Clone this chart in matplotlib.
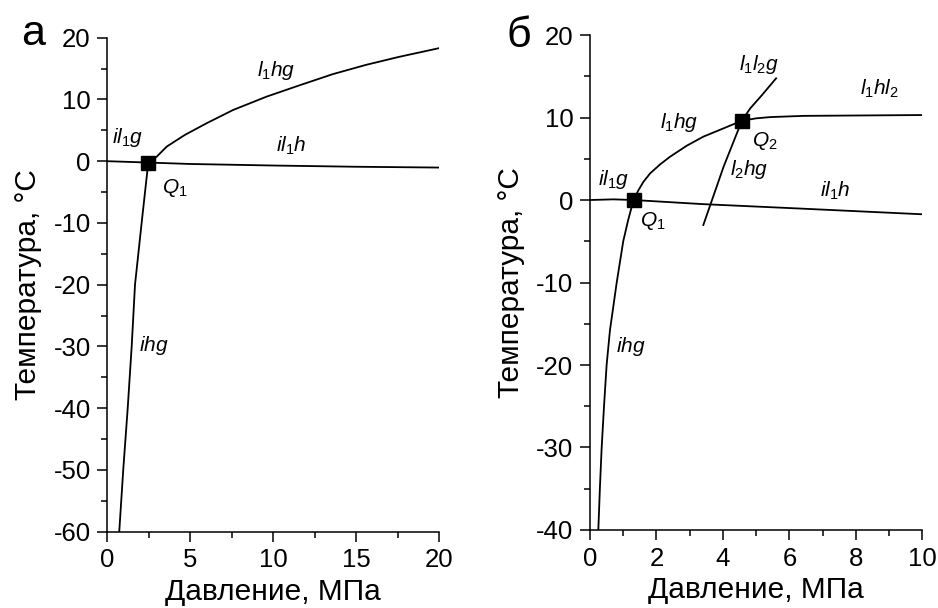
import matplotlib
matplotlib.use("Agg")
import matplotlib.pyplot as plt
from matplotlib.ticker import MultipleLocator

plt.rcParams["font.family"] = ["Liberation Sans", "DejaVu Sans"]
plt.rcParams["mathtext.fontset"] = "custom"
plt.rcParams["mathtext.rm"] = "Liberation Sans"
plt.rcParams["mathtext.it"] = "Liberation Sans:italic"
plt.rcParams["axes.unicode_minus"] = False

# --- панель а: давление, МПа / температура, °C ---
a_il1_P = [0.0, 2.47, 5.0, 10.0, 15.0, 20.0]
a_il1_T = [0.0, -0.22, -0.45, -0.7, -0.9, -1.03]
a_l1hg_P = [2.47, 2.98, 3.58, 4.68, 5.99, 7.59, 9.6, 11.6, 13.6, 15.6, 17.6, 20.0]
a_l1hg_T = [-0.22, 0.74, 2.36, 4.26, 6.15, 8.3, 10.45, 12.3, 14.1, 15.6, 16.9, 18.3]
a_ihg_P = [0.72, 0.96, 1.23, 1.47, 1.67, 2.07, 2.47]
a_ihg_T = [-60, -50, -40, -30, -20, -10, -0.22]
a_Q_P = [2.47]
a_Q_T = [-0.22]

# --- панель б ---
b_il1_P = [0.0, 0.7, 1.31, 3.4, 6.4, 10.0]
b_il1_T = [0.0, 0.08, 0.0, -0.5, -1.05, -1.73]
b_l1hg_P = [1.31, 1.46, 1.61, 1.81, 2.11, 2.41, 2.91, 3.41, 4.02, 4.57]
b_l1hg_T = [0.0, 1.21, 2.22, 3.23, 4.32, 5.25, 6.58, 7.68, 8.69, 9.61]
b_l1hl2_P = [4.57, 5.0, 5.42, 6.43, 10.0]
b_l1hl2_T = [9.61, 9.9, 10.05, 10.2, 10.3]
b_l1l2g_P = [4.57, 4.82, 5.17, 5.6]
b_l1l2g_T = [9.61, 11.1, 12.7, 14.75]
b_l2hg_P = [3.41, 4.02, 4.57]
b_l2hg_T = [-3.03, 4.04, 9.61]
b_ihg_P = [0.25, 0.30, 0.35, 0.42, 0.50, 0.60, 0.73, 0.80, 1.0, 1.15, 1.31]
b_ihg_T = [-40, -34.7, -30.1, -25.1, -20, -15.8, -12.1, -10.1, -5, -2.4, 0]
b_Q_P = [1.31, 4.57]
b_Q_T = [0.0, 9.61]

fig = plt.figure(figsize=(9.38, 6.08), dpi=100)
ax1 = fig.add_axes([0.1144, 0.1255, 0.3536, 0.8125])
ax2 = fig.add_axes([0.629, 0.1283, 0.3543, 0.8141])

lw = 1.1     # оси и риски
clw = 1.3    # кривые
for ax in (ax1, ax2):
    ax.spines["top"].set_visible(False)
    ax.spines["right"].set_visible(False)
    ax.spines["left"].set_linewidth(lw)
    ax.spines["bottom"].set_linewidth(lw)
    ax.tick_params(which="major", direction="out", length=7, width=lw, labelsize=18.5, pad=5)
    ax.tick_params(which="minor", direction="out", length=4, width=lw)
    ax.set_xlabel("Давление, МПа", fontsize=21.5, labelpad=4)
    ax.set_ylabel("Температура, °C", fontsize=21.5, labelpad=8)

ax1.plot(a_il1_P, a_il1_T, "k-", lw=clw)
ax1.plot(a_l1hg_P, a_l1hg_T, "k-", lw=clw)
ax1.plot(a_ihg_P, a_ihg_T, "k-", lw=clw)
ax1.plot(a_Q_P, a_Q_T, "ks", ms=9.4)
ax1.set_xlim(0, 20)
ax1.set_ylim(-60, 20)
ax1.xaxis.set_major_locator(MultipleLocator(5))
ax1.xaxis.set_minor_locator(MultipleLocator(2.5))
ax1.yaxis.set_major_locator(MultipleLocator(10))
ax1.yaxis.set_minor_locator(MultipleLocator(5))

fs = 15
ax1.text(0.27, 3.0, r"$il_{\mathit{1}}g$", fontsize=fs)
ax1.text(9.0, 13.8, r"$l_{\mathit{1}}hg$", fontsize=fs)
ax1.text(10.2, 1.55, r"$il_{\mathit{1}}h$", fontsize=fs)
ax1.text(3.28, -5.2, r"$Q_{\mathit{1}}$", fontsize=fs)
ax1.text(1.93, -30.8, r"$ihg$", fontsize=fs)

ax2.plot(b_il1_P, b_il1_T, "k-", lw=clw)
ax2.plot(b_l1hg_P, b_l1hg_T, "k-", lw=clw)
ax2.plot(b_l1hl2_P, b_l1hl2_T, "k-", lw=clw)
ax2.plot(b_l1l2g_P, b_l1l2g_T, "k-", lw=clw)
ax2.plot(b_l2hg_P, b_l2hg_T, "k-", lw=clw)
ax2.plot(b_ihg_P, b_ihg_T, "k-", lw=clw)
ax2.plot(b_Q_P, b_Q_T, "ks", ms=9.4, ls="none")
ax2.set_xlim(0, 10)
ax2.set_ylim(-40, 20)
ax2.xaxis.set_major_locator(MultipleLocator(2))
ax2.xaxis.set_minor_locator(MultipleLocator(1))
ax2.yaxis.set_major_locator(MultipleLocator(10))
ax2.yaxis.set_minor_locator(MultipleLocator(5))

ax2.text(0.25, 1.8, r"$il_{\mathit{1}}g$", fontsize=fs)
ax2.text(1.5, -3.2, r"$Q_{\mathit{1}}$", fontsize=fs)
ax2.text(2.1, 8.7, r"$l_{\mathit{1}}hg$", fontsize=fs)
ax2.text(4.47, 15.8, r"$l_{\mathit{1}}l_{\mathit{2}}g$", fontsize=fs)
ax2.text(8.13, 12.8, r"$l_{\mathit{1}}hl_{\mathit{2}}$", fontsize=fs)
ax2.text(4.87, 6.5, r"$Q_{\mathit{2}}$", fontsize=fs)
ax2.text(4.22, 3.0, r"$l_{\mathit{2}}hg$", fontsize=fs)
ax2.text(6.93, 0.4, r"$il_{\mathit{1}}h$", fontsize=fs)
ax2.text(0.77, -18.4, r"$ihg$", fontsize=fs)

# буквы панелей
fig.text(0.023, 0.926, "а", fontsize=31, va="baseline")
fig.text(0.540, 0.923, "б", fontsize=31, va="baseline")

fig.savefig("out.png", dpi=100)
